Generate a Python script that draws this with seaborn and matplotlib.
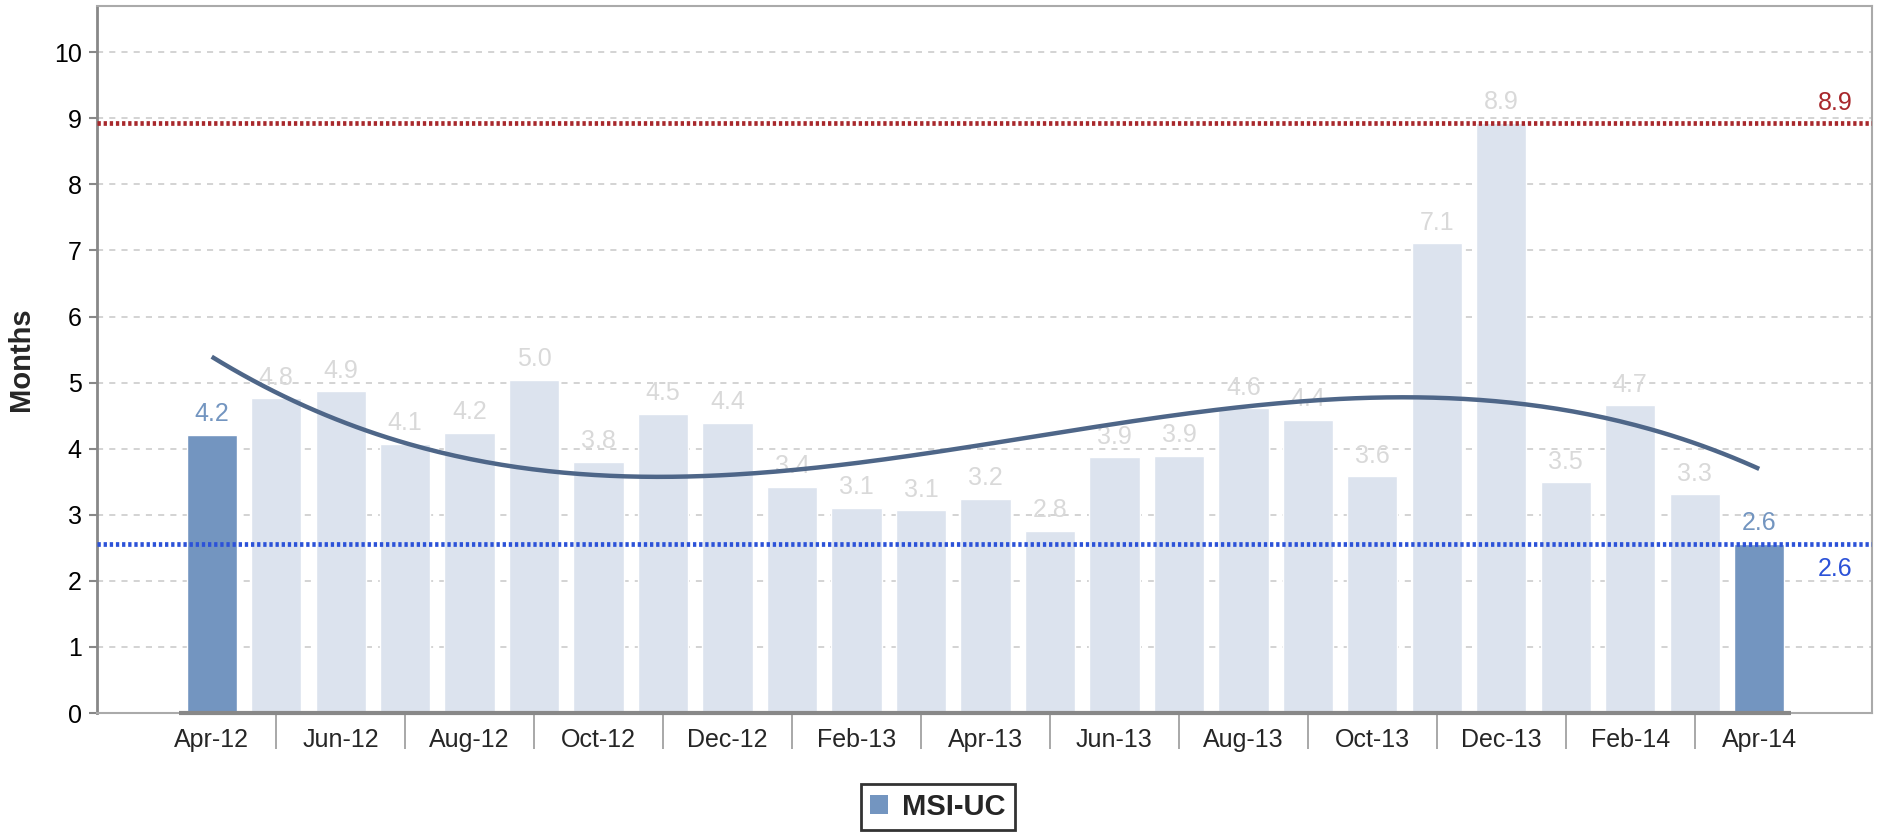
"""Months-per-period bar chart for MSI-UC with cubic trend and max/min reference lines."""

import matplotlib.pyplot as plt
import numpy as np
import pandas as pd
import seaborn as sns
from matplotlib.patches import Patch

MONTHS = [
    "Apr-12", "May-12", "Jun-12", "Jul-12", "Aug-12", "Sep-12", "Oct-12",
    "Nov-12", "Dec-12", "Jan-13", "Feb-13", "Mar-13", "Apr-13", "May-13",
    "Jun-13", "Jul-13", "Aug-13", "Sep-13", "Oct-13", "Nov-13", "Dec-13",
    "Jan-14", "Feb-14", "Mar-14", "Apr-14",
]
VALUES = [
    4.21, 4.76, 4.87, 4.07, 4.24, 5.04, 3.80, 4.53, 4.39, 3.42, 3.11, 3.07,
    3.24, 2.76, 3.87, 3.89, 4.61, 4.44, 3.58, 7.11, 8.93, 3.49, 4.66, 3.31, 2.56,
]
HIGHLIGHT_MONTHS = ["Apr-12", "Apr-14"]
SERIES_NAME = "MSI-UC"

DARK_BLUE = "#7395c0"
LIGHT_BLUE = "#dce3ee"
TREND_COLOR = "#4e6688"
MAX_COLOR = "#a8282c"
MIN_COLOR = "#2c52d8"

sns.set_theme(style="white")
plt.rcParams["font.family"] = ["Liberation Sans", "DejaVu Sans"]

df = pd.DataFrame({"month": MONTHS, "value": VALUES})
df["highlight"] = df["month"].isin(HIGHLIGHT_MONTHS)

fig = plt.figure(figsize=(18.86, 8.35), dpi=100)
ax = fig.add_axes([0.0514, 0.1461, 0.9412, 0.8467])

# grid first so bars sit on top
for y in range(0, 11):
    ax.axhline(y, color="#c8c8c8", lw=1.1, ls=(0, (4, 4)), zorder=0)

sns.barplot(
    data=df,
    x="month",
    y="value",
    hue="highlight",
    palette={True: DARK_BLUE, False: LIGHT_BLUE},
    dodge=False,
    width=0.78,
    saturation=1,
    legend=False,
    ax=ax,
    zorder=2,
)

positions = np.arange(len(VALUES))
coeffs = np.polyfit(positions, VALUES, 3)
xs = np.linspace(positions[0], positions[-1], 300)
ax.plot(xs, np.polyval(coeffs, xs), color=TREND_COLOR, lw=3.2, zorder=4,
        solid_capstyle="butt")

max_val = max(VALUES)
min_val = min(VALUES)
ax.axhline(max_val, color=MAX_COLOR, lw=3.4, ls=(0, (0.7, 0.6)), zorder=5)
ax.axhline(min_val, color=MIN_COLOR, lw=3.4, ls=(0, (0.7, 0.6)), zorder=5)

x_right = 25.75
ax.text(x_right - 0.3, max_val + 0.12, f"{max_val:.1f}", ha="right", va="bottom",
        color=MAX_COLOR, fontsize=18)
ax.text(x_right - 0.3, min_val - 0.2, f"{min_val:.1f}", ha="right", va="top",
        color=MIN_COLOR, fontsize=18)

for i, (v, hl) in enumerate(zip(VALUES, df["highlight"])):
    ax.text(i, v + 0.13, f"{v:.1f}", ha="center", va="bottom",
            color=DARK_BLUE if hl else "#d9d9d9", fontsize=18, zorder=3)

ax.set_xlim(-1.78, x_right)
ax.set_ylim(0, 10.7)
ax.set_yticks(range(0, 11))
ax.tick_params(axis="y", left=True, length=6, width=1.5, color="#888888",
               labelsize=18, pad=5, labelcolor="black")

major = positions[::2]
ax.set_xticks(major)
ax.set_xticklabels([MONTHS[i] for i in major])
ax.set_xticks(positions[1::2], minor=True)
ax.tick_params(axis="x", which="major", length=0, labelsize=18, pad=11)
ax.tick_params(axis="x", which="minor", bottom=True, length=26, width=1.2,
               color="#999999")

ax.set_xlabel("")
ax.set_ylabel("Months", fontsize=21, fontweight="bold")
ax.yaxis.set_label_coords(-0.035, 0.5)

for side in ["top", "right", "bottom"]:
    ax.spines[side].set_color("#aaaaaa")
    ax.spines[side].set_linewidth(1.5)
ax.spines["left"].set_color("#888888")
ax.spines["left"].set_linewidth(2)
ax.hlines(0, -0.5, len(VALUES) - 0.5, color="#888888", lw=3, zorder=6,
          clip_on=False)

leg = fig.legend(
    handles=[Patch(facecolor=DARK_BLUE, edgecolor="none")],
    labels=[SERIES_NAME],
    loc="center",
    bbox_to_anchor=(938 / 1886, 1 - 807 / 835),
    frameon=True,
    fancybox=False,
    handlelength=0.6,
    handleheight=0.6,
    handletextpad=0.5,
    borderpad=0.3,
    prop={"weight": "bold", "size": 21},
)
leg.get_frame().set_edgecolor("black")
leg.get_frame().set_linewidth(2)

fig.savefig("out.png", dpi=100)
